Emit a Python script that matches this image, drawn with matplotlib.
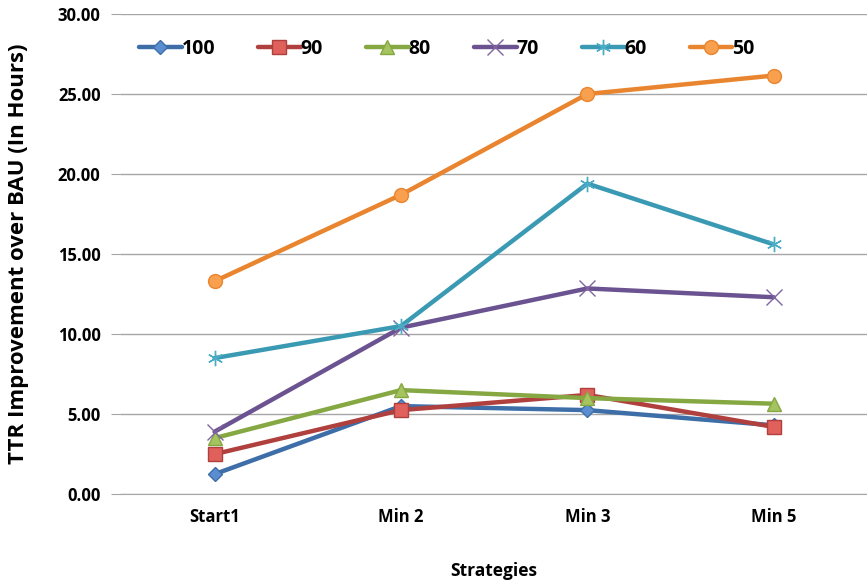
import matplotlib.pyplot as plt

plt.rcParams['font.family'] = ['Open Sans', 'DejaVu Sans']

strategies = ['Start1', 'Min 2', 'Min 3', 'Min 5']
s100 = [1.25, 5.5, 5.25, 4.3]
s90 = [2.5, 5.25, 6.2, 4.2]
s80 = [3.5, 6.5, 6.0, 5.65]
s70 = [3.9, 10.4, 12.85, 12.3]
s60 = [8.5, 10.5, 19.4, 15.6]
s50 = [13.3, 18.7, 25.0, 26.15]
labels = ['100', '90', '80', '70', '60', '50']

series = [s100, s90, s80, s70, s60, s50]
line_colors = ['#3D6EA8', '#B0403D', '#85A843', '#6B5290', '#3B9AB3', '#E9842F']
face_colors = ['#5B8ED1', '#E0605C', '#A5C35F', '#8064A2', '#4BACC6', '#F9A04E']
markers = ['D', 's', '^', 'x', (6, 2, 0), 'o']
sizes = [7, 10, 10, 11, 11, 10]

fig = plt.figure(figsize=(8.67, 5.8), dpi=100)
ax = fig.add_axes([0.14, 0.148, 0.86, 0.828])

x = range(len(strategies))
for ys, lab, lc, fc, m, ms in zip(series, labels, line_colors, face_colors, markers, sizes):
    ax.plot(x, ys, color=lc, linewidth=3.2, marker=m, markersize=ms,
            markerfacecolor=fc, markeredgecolor=lc if m not in ('x', (6, 2, 0)) else fc,
            markeredgewidth=1.0, label=lab, solid_capstyle='round', zorder=3)

ax.set_xlim(-0.5, 3.5)
ax.set_ylim(0, 30)
ax.set_yticks(range(0, 31, 5))
ax.set_yticklabels([f'{v:.2f}' for v in range(0, 31, 5)], fontsize=12, fontweight='bold')
ax.set_xticks(list(x))
ax.set_xticklabels(strategies, fontsize=12, fontweight='bold')
ax.grid(axis='y', color='#A6A6A6', linewidth=1.0)
ax.set_axisbelow(True)
for sp in ['top', 'right', 'left']:
    ax.spines[sp].set_visible(False)
ax.spines['bottom'].set_color('#A6A6A6')
ax.tick_params(axis='y', length=7, color='#A6A6A6', pad=8)
ax.tick_params(axis='x', length=0, pad=10)

ax.set_ylabel('TTR Improvement over BAU (In Hours)', fontsize=16, fontweight='bold')
ax.yaxis.set_label_coords(-0.124, 0.5)
ax.set_xlabel('Strategies', fontsize=12.5, fontweight='bold', labelpad=26)

leg = ax.legend(loc='upper left', ncol=6, frameon=False,
                prop={'weight': 'bold', 'size': 14}, handlelength=2.2,
                handletextpad=0.0, columnspacing=2.2, bbox_to_anchor=(0.0, 0.985))

fig.savefig('out.png', dpi=100)
